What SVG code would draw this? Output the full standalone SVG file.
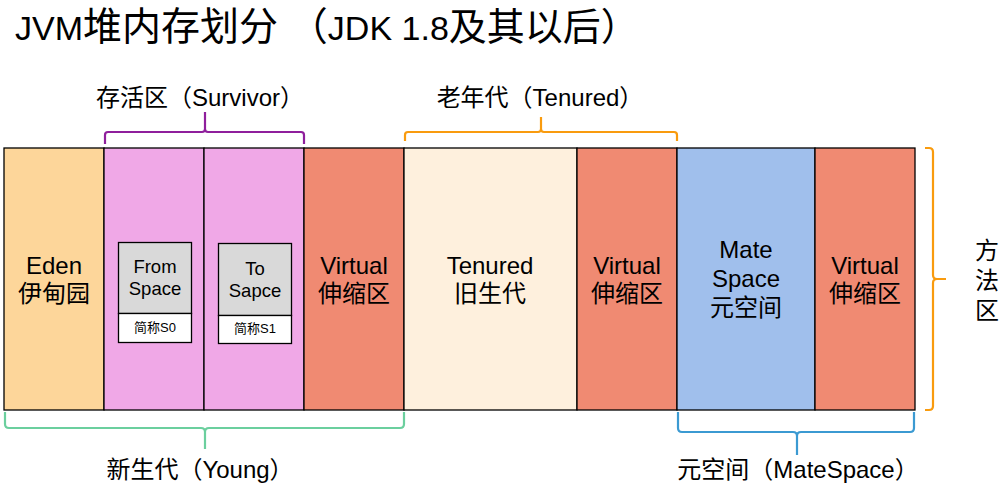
<svg xmlns="http://www.w3.org/2000/svg" width="1002" height="487" viewBox="0 0 1002 487">
<style>
text{font-family:"Liberation Sans","Noto Sans CJK SC",sans-serif;fill:#000}
.blk{stroke:#000;stroke-width:1.3}
.lbl{font-size:24px;text-anchor:middle}
.sm{font-size:18.5px;text-anchor:middle}
.xs{font-size:13px;text-anchor:middle}
.br{fill:none;stroke-width:2.2;stroke-linejoin:round}
</style>
<rect width="1002" height="487" fill="#fff"/>
<text x="15" y="40" font-size="34">JVM<tspan font-size="39">堆内存划分 （</tspan>JDK 1.8<tspan font-size="38">及其以后）</tspan></text>
<g id="eden"><rect class="blk" x="4" y="148" width="100" height="262" fill="#FDD69A"/>
<text class="lbl" x="54" y="274">Eden</text><text class="lbl" x="54" y="302">伊甸园</text></g>
<g id="s0"><rect class="blk" x="104" y="148" width="100" height="262" fill="#F0A8E7"/>
<rect class="blk" x="118.5" y="242.5" width="73" height="71" fill="#D9D9D9"/>
<rect class="blk" x="118.5" y="313.5" width="73" height="29" fill="#fff"/>
<text class="sm" x="155" y="273">From</text><text class="sm" x="155" y="295">Space</text>
<text class="xs" x="155" y="332">简称S0</text></g>
<g id="s1"><rect class="blk" x="204" y="148" width="100" height="262" fill="#F0A8E7"/>
<rect class="blk" x="218.5" y="243.5" width="73" height="72" fill="#D9D9D9"/>
<rect class="blk" x="218.5" y="315.5" width="73" height="28" fill="#fff"/>
<text class="sm" x="255" y="275">To</text><text class="sm" x="255" y="297">Sapce</text>
<text class="xs" x="255" y="333">简称S1</text></g>
<g id="virtual1"><rect class="blk" x="304" y="148" width="100" height="262" fill="#F08A72"/>
<text class="lbl" x="354" y="274">Virtual</text><text class="lbl" x="354" y="302">伸缩区</text></g>
<g id="tenured"><rect class="blk" x="404" y="148" width="173" height="262" fill="#FEF0DD"/>
<text class="lbl" x="490" y="274">Tenured</text><text class="lbl" x="490" y="302">旧生代</text></g>
<g id="virtual2"><rect class="blk" x="577" y="148" width="100" height="262" fill="#F08A72"/>
<text class="lbl" x="627" y="274">Virtual</text><text class="lbl" x="627" y="302">伸缩区</text></g>
<g id="metaspace"><rect class="blk" x="677" y="148" width="138" height="262" fill="#A0BFEC"/>
<text class="lbl" x="746" y="258">Mate</text><text class="lbl" x="746" y="287">Space</text><text class="lbl" x="746" y="316">元空间</text></g>
<g id="virtual3"><rect class="blk" x="815" y="148" width="100" height="262" fill="#F08A72"/>
<text class="lbl" x="865" y="274">Virtual</text><text class="lbl" x="865" y="302">伸缩区</text></g>
<g id="connectors">
<path class="br" stroke="#8F1F9C" d="M105,144 V135 Q105,132 108,132 H202 Q205,132 205,129 V112 M205,129 Q205,132 208,132 H301 Q304,132 304,135 V144"/>
<path class="br" stroke="#F99B0E" d="M405,141 V135 Q405,132 408,132 H538 Q541,132 541,129 V117 M541,129 Q541,132 544,132 H674 Q677,132 677,135 V141"/>
<path class="br" stroke="#6BCF9E" d="M5,412 V424 Q5,428 9,428 H201 Q205,428 205,432 V449 M205,432 Q205,428 209,428 H400 Q404,428 404,424 V412"/>
<path class="br" stroke="#3B9AD2" d="M678,412 V428 Q678,432 682,432 H793 Q797,432 797,436 V455 M797,436 Q797,432 801,432 H910 Q914,432 914,428 V412"/>
<path class="br" stroke="#F99B0E" d="M925,148 H929 Q933,148 933,152 V275 Q933,279 937,279 H946 M937,279 Q933,279 933,283 V406 Q933,410 929,410 H925"/>
</g>
<text class="lbl" x="200" y="106">存活区（Survivor）</text>
<text class="lbl" x="540" y="106">老年代（Tenured）</text>
<text class="lbl" x="200" y="478">新生代（Young）</text>
<text class="lbl" x="798" y="478">元空间（MateSpace）</text>
<text class="lbl" x="987" y="259">方</text>
<text class="lbl" x="987" y="289">法</text>
<text class="lbl" x="987" y="319">区</text>
</svg>
